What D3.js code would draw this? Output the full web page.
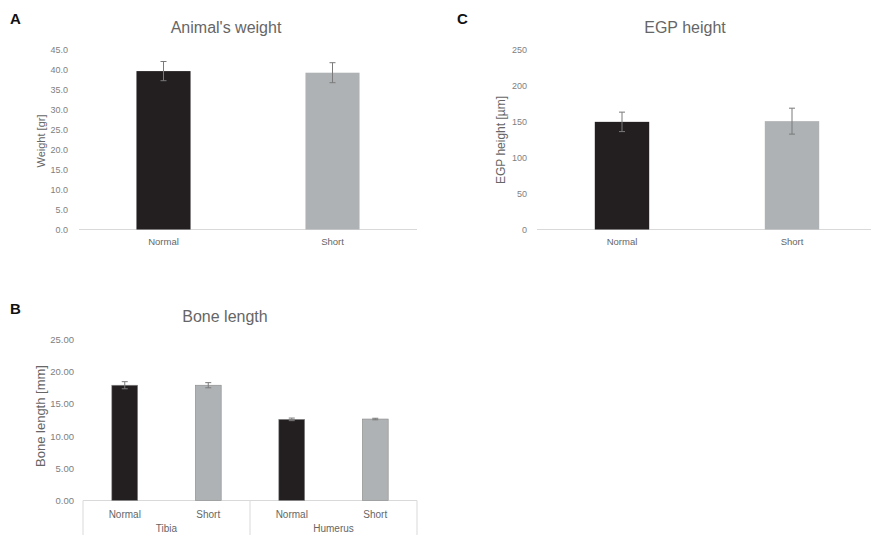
<!DOCTYPE html>
<html>
<head>
<meta charset="utf-8">
<script src="https://cdn.jsdelivr.net/npm/d3@7"></script>
<style>
  body { margin: 0; background: #fff; }
  text { font-family: "Liberation Sans", Arial, sans-serif; }
</style>
</head>
<body>
<div id="myChart"></div>
<script>
// ---- data ----
let groups = ["Normal", "Short"];

// A: animal's weight [gr]
let weightMean = [39.6, 39.2];
let weightErr = [2.4, 2.5];
let weightTicks = [0, 5, 10, 15, 20, 25, 30, 35, 40, 45];

// C: EGP height [um]
let egpMean = [149.5, 150.5];
let egpErr = [13.5, 18];
let egpTicks = [0, 50, 100, 150, 200, 250];

// B: bone length [mm]
let bones = ["Tibia", "Humerus"];
let boneMean = [17.9, 17.9, 12.6, 12.65];
let boneErr = [0.55, 0.4, 0.2, 0.12];
let boneTicks = [0, 5, 10, 15, 20, 25];

let barColors = { Normal: "#231f20", Short: "#afb2b4" };
let textGray = "#666666";
let tickGray = "#808080";
let axisGray = "#d9d9d9";

let svg = d3
  .select("#myChart")
  .append("svg")
  .attr("width", 871)
  .attr("height", 535);

// draws a panel with one bar per category
function simplePanel(opt) {
  let g = svg.append("g");
  let x = d3.scaleBand().domain(groups).range([opt.x0, opt.x1]).padding(0);
  let y = d3.scaleLinear().domain([0, d3.max(opt.ticks)]).range([opt.yBase, opt.yTop]);
  let bw = x.bandwidth() * 0.32;

  // baseline
  g.append("line")
    .attr("x1", opt.x0).attr("x2", opt.x1)
    .attr("y1", y(0)).attr("y2", y(0))
    .attr("stroke", axisGray).attr("stroke-width", 1);

  // y ticks
  let yAxis = g.append("g")
    .attr("transform", `translate(${opt.tickX},0)`)
    .call(d3.axisLeft(y).tickValues(opt.ticks).tickSize(0).tickPadding(0).tickFormat(opt.fmt));
  yAxis.select(".domain").remove();
  yAxis.selectAll(".tick text")
    .attr("fill", tickGray)
    .style("font-size", "9px")
    .style("font-family", "'Liberation Sans', Arial, sans-serif");

  // bars
  g.selectAll(".bar")
    .data(groups)
    .enter()
    .append("rect")
    .attr("x", (d) => x(d) + x.bandwidth() / 2 - bw / 2)
    .attr("y", (d, i) => y(opt.mean[i]))
    .attr("width", bw)
    .attr("height", (d, i) => y(0) - y(opt.mean[i]))
    .attr("fill", (d) => barColors[d]);

  errorBars(g, groups.map((d, i) => ({
    cx: x(d) + x.bandwidth() / 2,
    hi: y(opt.mean[i] + opt.err[i]),
    lo: y(opt.mean[i] - opt.err[i]),
  })));

  // category labels
  g.selectAll(".cat")
    .data(groups)
    .enter()
    .append("text")
    .attr("x", (d) => x(d) + x.bandwidth() / 2)
    .attr("y", y(0) + 15)
    .attr("text-anchor", "middle")
    .style("font-size", "9.5px")
    .attr("fill", textGray)
    .text((d) => d);

  labels(opt);
}

function errorBars(g, pts) {
  pts.forEach((p) => {
    g.append("line")
      .attr("x1", p.cx).attr("x2", p.cx)
      .attr("y1", p.hi).attr("y2", p.lo)
      .attr("stroke", "#7a7a7a").attr("stroke-width", 1);
    [p.hi, p.lo].forEach((yy) => {
      g.append("line")
        .attr("x1", p.cx - 3).attr("x2", p.cx + 3)
        .attr("y1", yy).attr("y2", yy)
        .attr("stroke", "#7a7a7a").attr("stroke-width", 1);
    });
  });
}

function labels(opt) {
  // panel letter
  svg.append("text")
    .attr("x", opt.letterX).attr("y", opt.letterY)
    .style("font-size", "15px").style("font-weight", "bold")
    .attr("fill", "#111")
    .text(opt.letter);
  // title
  svg.append("text")
    .attr("x", opt.titleX).attr("y", opt.titleY)
    .attr("text-anchor", "middle")
    .style("font-size", "16px")
    .attr("fill", textGray)
    .text(opt.title);
  // y axis title
  svg.append("text")
    .attr("transform", `translate(${opt.yTitleX},${opt.yTitleY}) rotate(-90)`)
    .attr("text-anchor", "middle")
    .style("font-size", opt.yTitleSize || "11px")
    .attr("fill", textGray)
    .text(opt.yTitle);
}

// Panel A
simplePanel({
  letter: "A", letterX: 10, letterY: 24,
  title: "Animal's weight", titleX: 226, titleY: 33,
  yTitle: "Weight [gr]", yTitleX: 45, yTitleY: 141,
  x0: 79, x1: 417, yBase: 229.5, yTop: 49.5, tickX: 68,
  ticks: weightTicks, fmt: d3.format(".1f"),
  mean: weightMean, err: weightErr,
});

// Panel C
simplePanel({
  letter: "C", letterX: 457, letterY: 24,
  title: "EGP height", titleX: 685, titleY: 33,
  yTitle: "EGP height [\u00b5m]", yTitleX: 505, yTitleY: 140, yTitleSize: "12px",
  x0: 537, x1: 877, yBase: 229.5, yTop: 49.5, tickX: 527,
  ticks: egpTicks, fmt: d3.format("d"),
  mean: egpMean, err: egpErr,
});

// Panel B (grouped categories: bone / group)
let bItems = [];
bones.forEach((b) => groups.forEach((gname) => bItems.push({ bone: b, group: gname })));
bItems.forEach((d, i) => { d.mean = boneMean[i]; d.err = boneErr[i]; d.key = d.bone + "-" + d.group; });

let bx0 = 83, bx1 = 417;
let bxScale = d3.scaleBand().domain(bItems.map((d) => d.key)).range([bx0, bx1]).padding(0);
let boneScale = d3.scaleBand().domain(bones).range([bx0, bx1]).padding(0);
let by = d3.scaleLinear().domain([0, 25]).range([500.5, 339.5]);
let bg = svg.append("g");
let bbw = bxScale.bandwidth() * 0.31;

bg.append("line")
  .attr("x1", bx0).attr("x2", bx1)
  .attr("y1", by(0)).attr("y2", by(0))
  .attr("stroke", axisGray);
// group separators
bg.selectAll(".sep")
  .data([bx0].concat(bones.map((b) => boneScale(b) + boneScale.bandwidth())))
  .enter()
  .append("line")
  .attr("x1", (d) => d).attr("x2", (d) => d)
  .attr("y1", by(0)).attr("y2", 540)
  .attr("stroke", axisGray);

let bAxis = bg.append("g")
  .attr("transform", "translate(74,0)")
  .call(d3.axisLeft(by).tickValues(boneTicks).tickSize(0).tickPadding(0).tickFormat(d3.format(".2f")));
bAxis.select(".domain").remove();
bAxis.selectAll(".tick text")
  .attr("fill", tickGray)
  .style("font-size", "9.5px")
  .style("font-family", "'Liberation Sans', Arial, sans-serif");

bg.selectAll(".bar")
  .data(bItems)
  .enter()
  .append("rect")
  .attr("x", (d) => bxScale(d.key) + bxScale.bandwidth() / 2 - bbw / 2)
  .attr("y", (d) => by(d.mean))
  .attr("width", bbw)
  .attr("height", (d) => by(0) - by(d.mean))
  .attr("fill", (d) => barColors[d.group])
  .attr("stroke", "#8a8a8a")
  .attr("stroke-width", 0.6);

errorBars(bg, bItems.map((d) => ({
  cx: bxScale(d.key) + bxScale.bandwidth() / 2,
  hi: by(d.mean + d.err),
  lo: by(d.mean - d.err),
})));

bg.selectAll(".cat")
  .data(bItems)
  .enter()
  .append("text")
  .attr("x", (d) => bxScale(d.key) + bxScale.bandwidth() / 2)
  .attr("y", by(0) + 17)
  .attr("text-anchor", "middle")
  .style("font-size", "10px")
  .attr("fill", textGray)
  .text((d) => d.group);

bg.selectAll(".bone")
  .data(bones)
  .enter()
  .append("text")
  .attr("x", (d) => boneScale(d) + boneScale.bandwidth() / 2)
  .attr("y", 532)
  .attr("text-anchor", "middle")
  .style("font-size", "10px")
  .attr("fill", textGray)
  .text((d) => d);

labels({
  letter: "B", letterX: 10, letterY: 314,
  title: "Bone length", titleX: 225, titleY: 322,
  yTitle: "Bone length [mm]", yTitleX: 45, yTitleY: 416, yTitleSize: "13px",
});
</script>
</body>
</html>
